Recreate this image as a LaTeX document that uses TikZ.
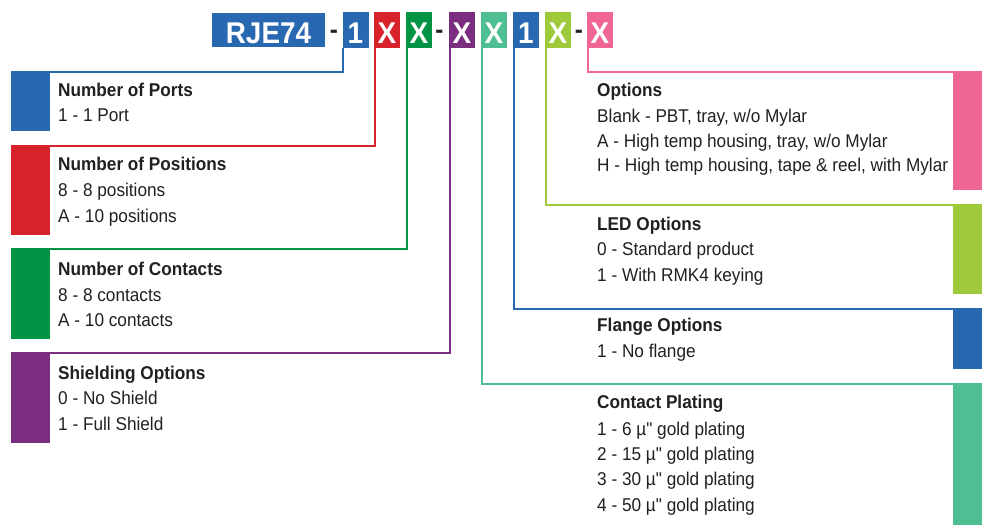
\documentclass[tikz,border=0pt]{standalone}
\usepackage{fontspec}
\setmainfont[FakeStretch=0.93, Ligatures=TeXOff]{Liberation Sans}
\definecolor{cblue}{RGB}{40,104,177}
\definecolor{cred}{RGB}{215,33,43}
\definecolor{cgreen}{RGB}{0,148,68}
\definecolor{cpurple}{RGB}{123,45,127}
\definecolor{cteal}{RGB}{79,191,147}
\definecolor{clime}{RGB}{157,201,59}
\definecolor{cpink}{RGB}{239,101,149}
\definecolor{ctext}{RGB}{35,31,32}
\begin{document}
\begin{tikzpicture}[x=1pt,y=-1pt,
  hbox/.style={inner sep=0pt, text=white, font=\fontsize{30}{30}\selectfont\bfseries,
    minimum height=36pt, minimum width=26pt, text height=28pt, text depth=1.4pt},
  hdash/.style={inner sep=0pt, anchor=base, text=ctext, font=\fontsize{26}{26}\selectfont\bfseries},
  sqbox/.style={inner sep=0pt, anchor=north west, draw=none},
  conn/.style={line width=1.8pt},
  ttl/.style={inner sep=0pt, anchor=base west, text=ctext, font=\fontsize{18.5}{22}\selectfont\bfseries},
  itm/.style={inner sep=0pt, anchor=base west, text=ctext, font=\fontsize{18.5}{22}\selectfont}
]
\useasboundingbox (0,0) rectangle (982,525);

% header
\node[hbox, fill=cblue, minimum width=113pt, minimum height=34pt] (hdr) at (268.5,30) {RJE74};
\node[hdash] (d1) at (334,38) {-};
\node[hbox, fill=cblue] (b1) at (355.5,30) {1};
\node[hbox, fill=cred] (b2) at (387,30) {X};
\node[hbox, fill=cgreen] (b3) at (419,30) {X};
\node[hdash] (d2) at (439.5,38) {-};
\node[hbox, fill=cpurple] (b4) at (462,30) {X};
\node[hbox, fill=cteal] (b5) at (494,30) {X};
\node[hbox, fill=cblue] (b6) at (526,30) {1};
\node[hbox, fill=clime] (b7) at (558,30) {X};
\node[hdash] (d3) at (579,38) {-};
\node[hbox, fill=cpink] (b8) at (600,30) {X};

% left squares
\node[sqbox, fill=cblue, minimum width=39pt, minimum height=59pt] (s1) at (11,72) {};
\node[sqbox, fill=cred, minimum width=39pt, minimum height=89pt] (s2) at (11,146) {};
\node[sqbox, fill=cgreen, minimum width=39pt, minimum height=90pt] (s3) at (11,249) {};
\node[sqbox, fill=cpurple, minimum width=39pt, minimum height=90pt] (s4) at (11,353) {};
% right squares
\node[sqbox, fill=cpink, minimum width=29pt, minimum height=118pt] (s8) at (953,72) {};
\node[sqbox, fill=clime, minimum width=29pt, minimum height=89pt] (s7) at (953,205) {};
\node[sqbox, fill=cblue, minimum width=29pt, minimum height=60pt] (s6) at (953,309) {};
\node[sqbox, fill=cteal, minimum width=29pt, minimum height=141pt] (s5) at (953,384) {};

% connectors
\draw[conn, cblue]   ([xshift=1pt]b1.south west) |- (s1.north west);
\draw[conn, cred]    ([xshift=1pt]b2.south west) |- (s2.north west);
\draw[conn, cgreen]  ([xshift=1pt]b3.south west) |- (s3.north west);
\draw[conn, cpurple] ([xshift=1pt]b4.south west) |- (s4.north west);
\draw[conn, cteal]   ([xshift=1pt]b5.south west) |- (s5.north east);
\draw[conn, cblue]   ([xshift=1pt]b6.south west) |- (s6.north east);
\draw[conn, clime]   ([xshift=1pt]b7.south west) |- (s7.north east);
\draw[conn, cpink]   ([xshift=1pt]b8.south west) |- (s8.north east);

% left texts
\node[ttl] (t1) at (58,96) {Number of Ports};
\node[itm] (t1a) at (58,121) {1 - 1 Port};
\node[ttl] (t2) at (58,170.7) {Number of Positions};
\node[itm] (t2a) at (58,196.7) {8 - 8 positions};
\node[itm] (t2b) at (58,222.3) {A - 10 positions};
\node[ttl] (t3) at (58,275) {Number of Contacts};
\node[itm] (t3a) at (58,301) {8 - 8 contacts};
\node[itm] (t3b) at (58,326.7) {A - 10 contacts};
\node[ttl] (t4) at (58,379) {Shielding Options};
\node[itm] (t4a) at (58,404.3) {0 - No Shield};
\node[itm] (t4b) at (58,430) {1 - Full Shield};

% right texts
\node[ttl] (t8) at (597,96.7) {Options};
\node[itm] (t8a) at (597,122.3) {Blank - PBT, tray, w/o Mylar};
\node[itm] (t8b) at (597,147.3) {A - High temp housing, tray, w/o Mylar};
\node[itm] (t8c) at (597,171.7) {H - High temp housing, tape \& reel, with Mylar};
\node[ttl] (t7) at (597,230) {LED Options};
\node[itm] (t7a) at (597,255.7) {0 - Standard product};
\node[itm] (t7b) at (597,281) {1 - With RMK4 keying};
\node[ttl] (t6) at (597,331.7) {Flange Options};
\node[itm] (t6a) at (597,357.7) {1 - No flange};
\node[ttl] (t5) at (597,408.3) {Contact Plating};
\node[itm] (t5a) at (597,435) {1 - 6 µ" gold plating};
\node[itm] (t5b) at (597,460) {2 - 15 µ" gold plating};
\node[itm] (t5c) at (597,485.7) {3 - 30 µ" gold plating};
\node[itm] (t5d) at (597,511.7) {4 - 50 µ" gold plating};
\end{tikzpicture}
\end{document}
